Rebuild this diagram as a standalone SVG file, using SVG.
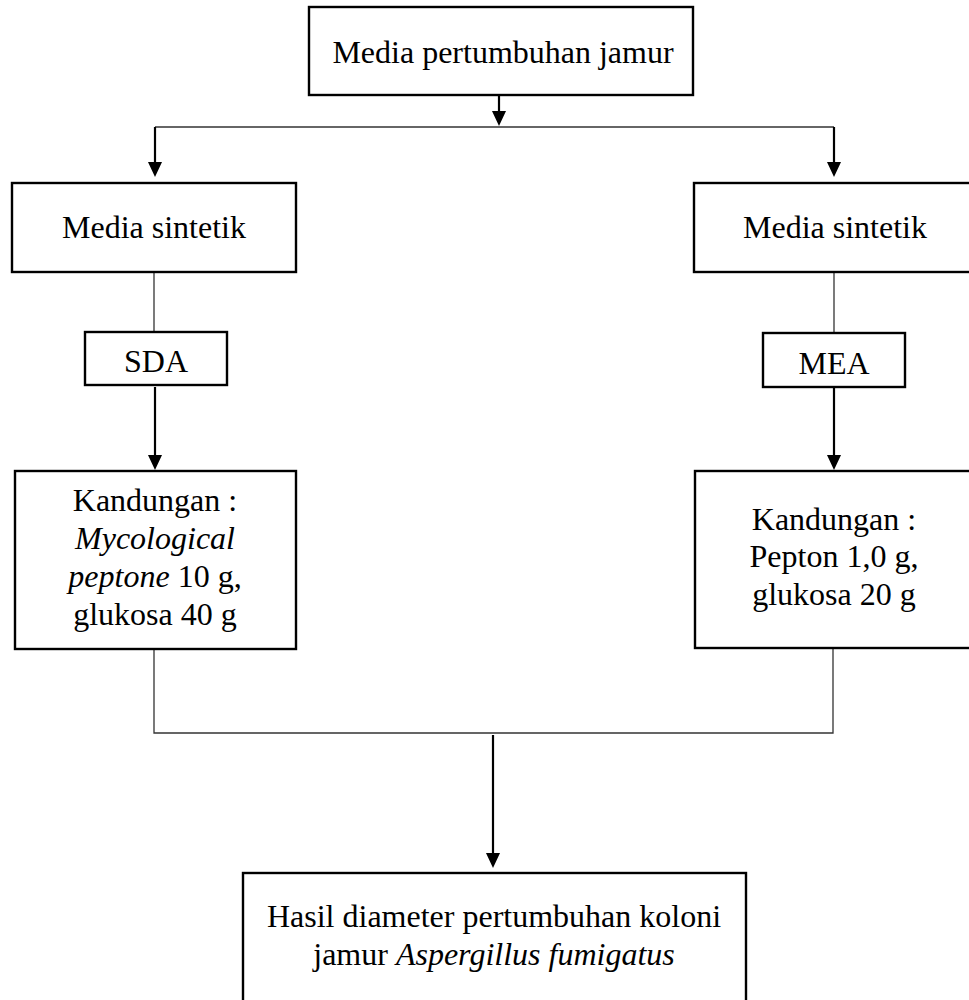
<svg xmlns="http://www.w3.org/2000/svg" width="969" height="1000" viewBox="0 0 969 1000">
<defs>
<style>
.box{fill:#fff;stroke:#000;stroke-width:2.4}
.t{font-family:"Liberation Serif","Times New Roman",serif;font-size:32px;fill:#000;text-anchor:middle}
.i{font-style:italic}
.thin{fill:none;stroke:#333;stroke-width:1.3}
.arr{fill:none;stroke:#000;stroke-width:2.2}
.head{fill:#000}
</style>
</defs>
<rect width="969" height="1000" fill="#fff"/>
<g id="connectors">
<line class="arr" x1="499" y1="95" x2="499" y2="111"/>
<path class="head" d="M492,111 L506,111 L499,126 Z"/>
<line class="thin" x1="155" y1="127" x2="834" y2="127" stroke="#000"/>
<line class="arr" x1="155" y1="127" x2="155" y2="162"/>
<path class="head" d="M148,162 L162,162 L155,177 Z"/>
<line class="arr" x1="834" y1="127" x2="834" y2="162"/>
<path class="head" d="M827,162 L841,162 L834,177 Z"/>
<line class="thin" x1="154" y1="272" x2="154" y2="332"/>
<line class="thin" x1="834" y1="272" x2="834" y2="333"/>
<line class="arr" x1="155" y1="387" x2="155" y2="455"/>
<path class="head" d="M148,455 L162,455 L155,470 Z"/>
<line class="arr" x1="834" y1="388" x2="834" y2="455"/>
<path class="head" d="M827,455 L841,455 L834,470 Z"/>
<polyline class="thin" points="154,649 154,733 833,733 833,648"/>
<line class="arr" x1="493" y1="735" x2="493" y2="853"/>
<path class="head" d="M486,853 L500,853 L493,868 Z"/>
</g>
<g id="top">
<rect class="box" x="309" y="7" width="384" height="88"/>
<text class="t" x="503" y="63">Media pertumbuhan jamur</text>
</g>
<g id="left-media">
<rect class="box" x="12" y="183" width="284" height="89"/>
<text class="t" x="154" y="238">Media sintetik</text>
</g>
<g id="right-media">
<rect class="box" x="694" y="183" width="300" height="89"/>
<text class="t" x="835" y="238">Media sintetik</text>
</g>
<g id="sda">
<rect class="box" x="85" y="332" width="142" height="53"/>
<text class="t" x="156" y="372">SDA</text>
</g>
<g id="mea">
<rect class="box" x="763" y="333" width="142" height="54"/>
<text class="t" x="834" y="374">MEA</text>
</g>
<g id="left-content">
<rect class="box" x="15" y="471" width="281" height="178"/>
<text class="t" x="155" y="511">Kandungan :</text>
<text class="t i" x="155" y="549">Mycological</text>
<text class="t" x="155" y="587"><tspan class="i">peptone</tspan> 10 g,</text>
<text class="t" x="155" y="625">glukosa 40 g</text>
</g>
<g id="right-content">
<rect class="box" x="695" y="471" width="300" height="177"/>
<text class="t" x="834" y="530">Kandungan :</text>
<text class="t" x="834" y="567">Pepton 1,0 g,</text>
<text class="t" x="834" y="605">glukosa 20 g</text>
</g>
<g id="result">
<rect class="box" x="243" y="873" width="503" height="140"/>
<text class="t" x="494" y="927">Hasil diameter pertumbuhan koloni</text>
<text class="t" x="494" y="965">jamur <tspan class="i">Aspergillus fumigatus</tspan></text>
</g>
</svg>
